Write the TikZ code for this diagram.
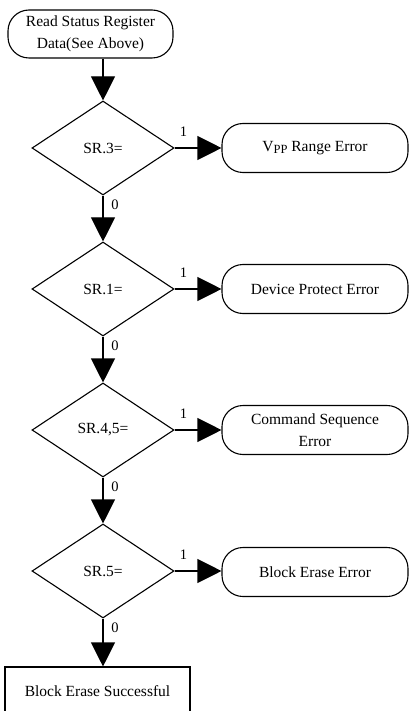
\documentclass[tikz,border=0pt]{standalone}
\usepackage{fontspec}
\setmainfont{Liberation Serif}
\usetikzlibrary{arrows.meta,shapes.geometric}
\begin{document}
\begin{tikzpicture}[x=1pt,y=-1pt,
  every node/.style={font=\fontsize{15.5}{22}\selectfont},
  term/.style={draw,line width=1.1pt,rounded corners=21pt,minimum height=49pt,align=center,inner sep=0pt},
  dec/.style={draw,line width=1.1pt,diamond,minimum width=142pt,minimum height=94pt,inner sep=0pt},
  okbox/.style={draw,line width=1.1pt,rectangle,minimum width=185pt,minimum height=48pt,inner sep=0pt},
  lab/.style={font=\fontsize{14.5}{14.5}\selectfont,inner sep=0pt},
  arr/.style={line width=1.1pt,-{Triangle[length=24pt,width=24pt]}}]
\clip (0,0) rectangle (409,711);
\fill[white] (0,0) rectangle (409,711);
\node[term,minimum width=165pt,minimum height=48pt] (top) at (90.5,34) {Read Status Register\\Data(See Above)};
\node[dec] (d1) at (103,148) {SR.3=};
\node[dec] (d2) at (103,289) {SR.1=};
\node[dec] (d3) at (103,430) {SR.4,5=};
\node[dec] (d4) at (103,571) {SR.5=};
\node[term,minimum width=186pt] (e1) at (315,148) {V\raisebox{-0.35ex}{\fontsize{12.5}{12.5}\selectfont PP} Range Error};
\node[term,minimum width=186pt] (e2) at (315,289) {Device Protect Error};
\node[term,minimum width=186pt] (e3) at (315,430) {Command Sequence\\Error};
\node[term,minimum width=186pt] (e4) at (315,572) {Block Erase Error};
\node[okbox] (ok) at (97.5,691) {Block Erase Successful};
\draw[arr] (top.south -| d1.north) -- (d1.north);
\draw[arr] (d1.south) -- (d2.north);
\draw[arr] (d2.south) -- (d3.north);
\draw[arr] (d3.south) -- (d4.north);
\draw[arr] (d4.south) -- (d4.south |- ok.north);
\foreach \d/\e in {d1/e1,d2/e2,d3/e3,d4/e4}{
  \draw[arr] (\d.east) -- (\d.east -| \e.west);
  \path (\d.east) ++(9,-16) node[lab] {1};
  \path (\d.south) ++(12,9) node[lab] {0};
}
\end{tikzpicture}
\end{document}
